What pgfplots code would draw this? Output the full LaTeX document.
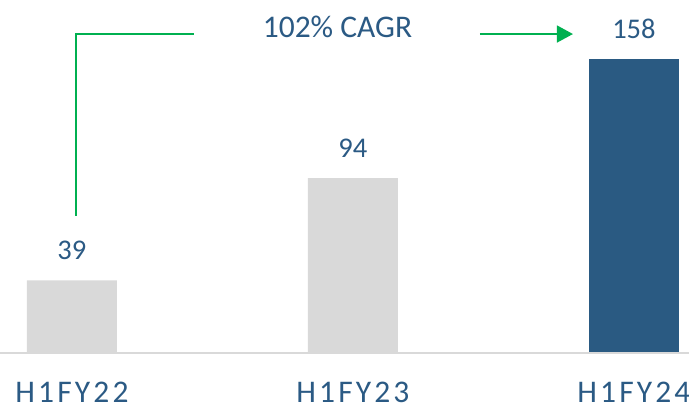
\documentclass[border=0pt]{standalone}
\usepackage{fontspec}
\setmainfont{Carlito}
\newfontfamily\spaced[LetterSpace=10]{Carlito}
\usepackage{pgfplots}
\pgfplotsset{compat=1.18}
\usetikzlibrary{arrows.meta}
\definecolor{txtblue}{HTML}{2B5A84}
\definecolor{barblue}{HTML}{2A5A82}
\definecolor{bargray}{HTML}{D9D9D9}
\definecolor{cagrgreen}{HTML}{00B050}
\begin{document}
\begin{tikzpicture}
\begin{axis}[
  name=ax,
  scale only axis,
  width=689pt, height=353pt,
  xmin=-0.256, xmax=2.196,
  ymin=0, ymax=189.8,
  axis line style={draw=none},
  ytick=\empty,
  xtick={0,1,2},
  xticklabels={H1FY22,H1FY23,H1FY24},
  major tick length=0pt,
  xticklabel style={anchor=base, yshift=-50pt, inner sep=0pt, text=txtblue, font=\spaced\fontsize{31.5}{31.5}\selectfont},
  ybar, bar width=90pt,
  nodes near coords,
  /pgf/number format/assume math mode=true,
  every node near coord/.append style={anchor=base, yshift=21pt, inner sep=0pt, text=txtblue, font=\fontsize{28.5}{28.5}\selectfont},
  clip=false,
]
\addplot[fill=bargray, draw=none, bar shift=0pt] coordinates {(0,39) (1,94)};
\addplot[fill=barblue, draw=none, bar shift=0pt] coordinates {(2,158)};
\draw[bargray, line width=2pt] (axis cs:-0.256,0) -- (axis cs:2.196,0);
\draw[cagrgreen, line width=1.5pt] (axis cs:0.0142,73.7) -- (axis cs:0.0142,171.5) -- (axis cs:0.433,171.5);
\draw[cagrgreen, line width=1.5pt, -{Triangle[length=16pt,width=17pt]}] (axis cs:1.452,171.5) -- (axis cs:1.783,171.5);
\node[anchor=base, inner sep=0pt, text=txtblue, font=\fontsize{31.5}{31.5}\selectfont] at (axis cs:0.945,169.4) {102\% CAGR};
\end{axis}
\pgfresetboundingbox
\path[use as bounding box] (ax.south west) ++(0,-55pt) rectangle (ax.north east);
\end{tikzpicture}
\end{document}
